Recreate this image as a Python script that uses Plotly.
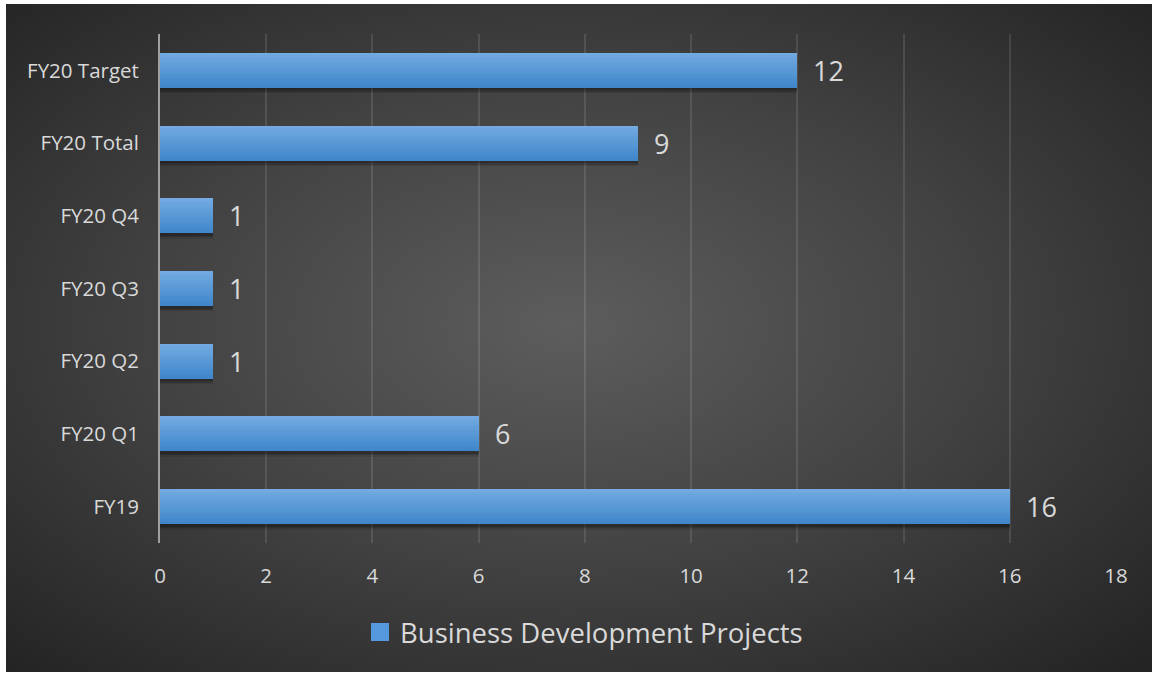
import base64
import plotly.graph_objects as go

# Chart data
categories = ["FY19", "FY20 Q1", "FY20 Q2", "FY20 Q3", "FY20 Q4", "FY20 Total", "FY20 Target"]
projects = [16, 6, 1, 1, 1, 9, 12]
x_ticks = [0, 2, 4, 6, 8, 10, 12, 14, 16, 18]
series_name = "Business Development Projects"

W, H = 1153, 673
ML, MR, MT, MB = 160, 37, 34, 130
PW, PH = W - ML - MR, H - MT - MB

FONT = "Open Sans, Noto Sans, sans-serif"
TEXT = "#d9d9d9"

# Radial background (light centre, dark edges) as an inline SVG
svg = """<svg xmlns='http://www.w3.org/2000/svg' width='1146' height='668' viewBox='0 0 100 100' preserveAspectRatio='none'>
<defs><radialGradient id='g' cx='0.49' cy='0.48' r='0.72'>
<stop offset='0' stop-color='#5d5d5d'/>
<stop offset='0.5' stop-color='#424242'/>
<stop offset='1' stop-color='#232323'/>
</radialGradient></defs>
<rect x='0' y='0' width='100' height='100' fill='url(#g)'/></svg>"""
bg_src = "data:image/svg+xml;base64," + base64.b64encode(svg.encode()).decode()

# dark panel in pixels, converted to paper coordinates
px0, px1, py0, py1 = 6, 1152, 4, 672
bg_x = (px0 - ML) / PW
bg_y = (H - MB - py0) / PH
bg_sx = (px1 - px0) / PW
bg_sy = (py1 - py0) / PH

half = 0.24
fig = go.Figure()

# soft drop shadow under each bar (stacked translucent layers)
for shift, alpha in [(0.075, 0.10), (0.055, 0.14), (0.035, 0.18)]:
    fig.add_trace(go.Bar(
        x=projects, y=categories, orientation="h",
        base=0, offset=-half - shift, width=2 * half,
        marker=dict(color=f"rgba(0,0,0,{alpha})", line=dict(width=0)),
        showlegend=False, hoverinfo="skip",
    ))

# vertical gradient of the bar fill, drawn as thin bands (dark bottom -> light top)
bottom_rgb = (0x3f, 0x86, 0xca)
top_rgb = (0x72, 0xaa, 0xe1)
n_bands = 14
band = 2 * half / n_bands
for i in range(n_bands):
    t = i / (n_bands - 1)
    r, g, b = [round(bottom_rgb[k] + (top_rgb[k] - bottom_rgb[k]) * t) for k in range(3)]
    fig.add_trace(go.Bar(
        x=projects, y=categories, orientation="h",
        offset=-half + i * band, width=band * 1.03,
        marker=dict(color=f"rgb({r},{g},{b})", line=dict(width=0)),
        showlegend=False,
        hovertemplate="%{y}: %{x}<extra></extra>" if i == 0 else None,
        hoverinfo=None if i == 0 else "skip",
    ))

# legend entry
fig.add_trace(go.Scatter(
    x=[None], y=[None], mode="markers", name=series_name,
    marker=dict(symbol="square", size=16, color="#5598db",
                line=dict(width=2, color="#5598db")),
))

# value labels
for cat, val in zip(categories, projects):
    fig.add_annotation(
        x=val, y=cat, text=str(val), showarrow=False,
        xanchor="left", yanchor="middle", xshift=14,
        font=dict(family=FONT, size=27, color=TEXT),
    )

fig.update_layout(
    width=W, height=H,
    margin=dict(l=ML, r=MR, t=MT, b=MB, pad=0),
    paper_bgcolor="white",
    plot_bgcolor="rgba(0,0,0,0)",
    barmode="overlay",
    bargap=0,
    font=dict(family=FONT, color=TEXT),
    images=[dict(
        source=bg_src, xref="paper", yref="paper",
        x=bg_x, y=bg_y, sizex=bg_sx, sizey=bg_sy,
        xanchor="left", yanchor="top", sizing="stretch", layer="below",
    )],
    legend=dict(
        orientation="h", x=(584 - ML) / PW, y=(H - MB - 632) / PH,
        xanchor="center", yanchor="middle",
        font=dict(family=FONT, size=27.5, color=TEXT),
        bgcolor="rgba(0,0,0,0)", itemwidth=30,
    ),
    xaxis=dict(
        range=[0, 18], tickvals=x_ticks, ticktext=[str(v) for v in x_ticks],
        showgrid=True, gridcolor="rgba(255,255,255,0.11)", gridwidth=1.5,
        zeroline=False, showline=False,
        ticks="outside", ticklen=14, tickcolor="rgba(0,0,0,0)",
        tickfont=dict(family=FONT, size=20.5, color=TEXT),
        fixedrange=True,
    ),
    yaxis=dict(
        categoryorder="array", categoryarray=categories,
        range=[-0.5, len(categories) - 0.5],
        showgrid=False, zeroline=False,
        showline=True, linecolor="#a0a0a0", linewidth=2,
        ticks="outside", ticklen=15, tickcolor="rgba(0,0,0,0)",
        tickfont=dict(family=FONT, size=20.5, color=TEXT),
        fixedrange=True,
    ),
    showlegend=True,
)

fig.write_html("out.html")
